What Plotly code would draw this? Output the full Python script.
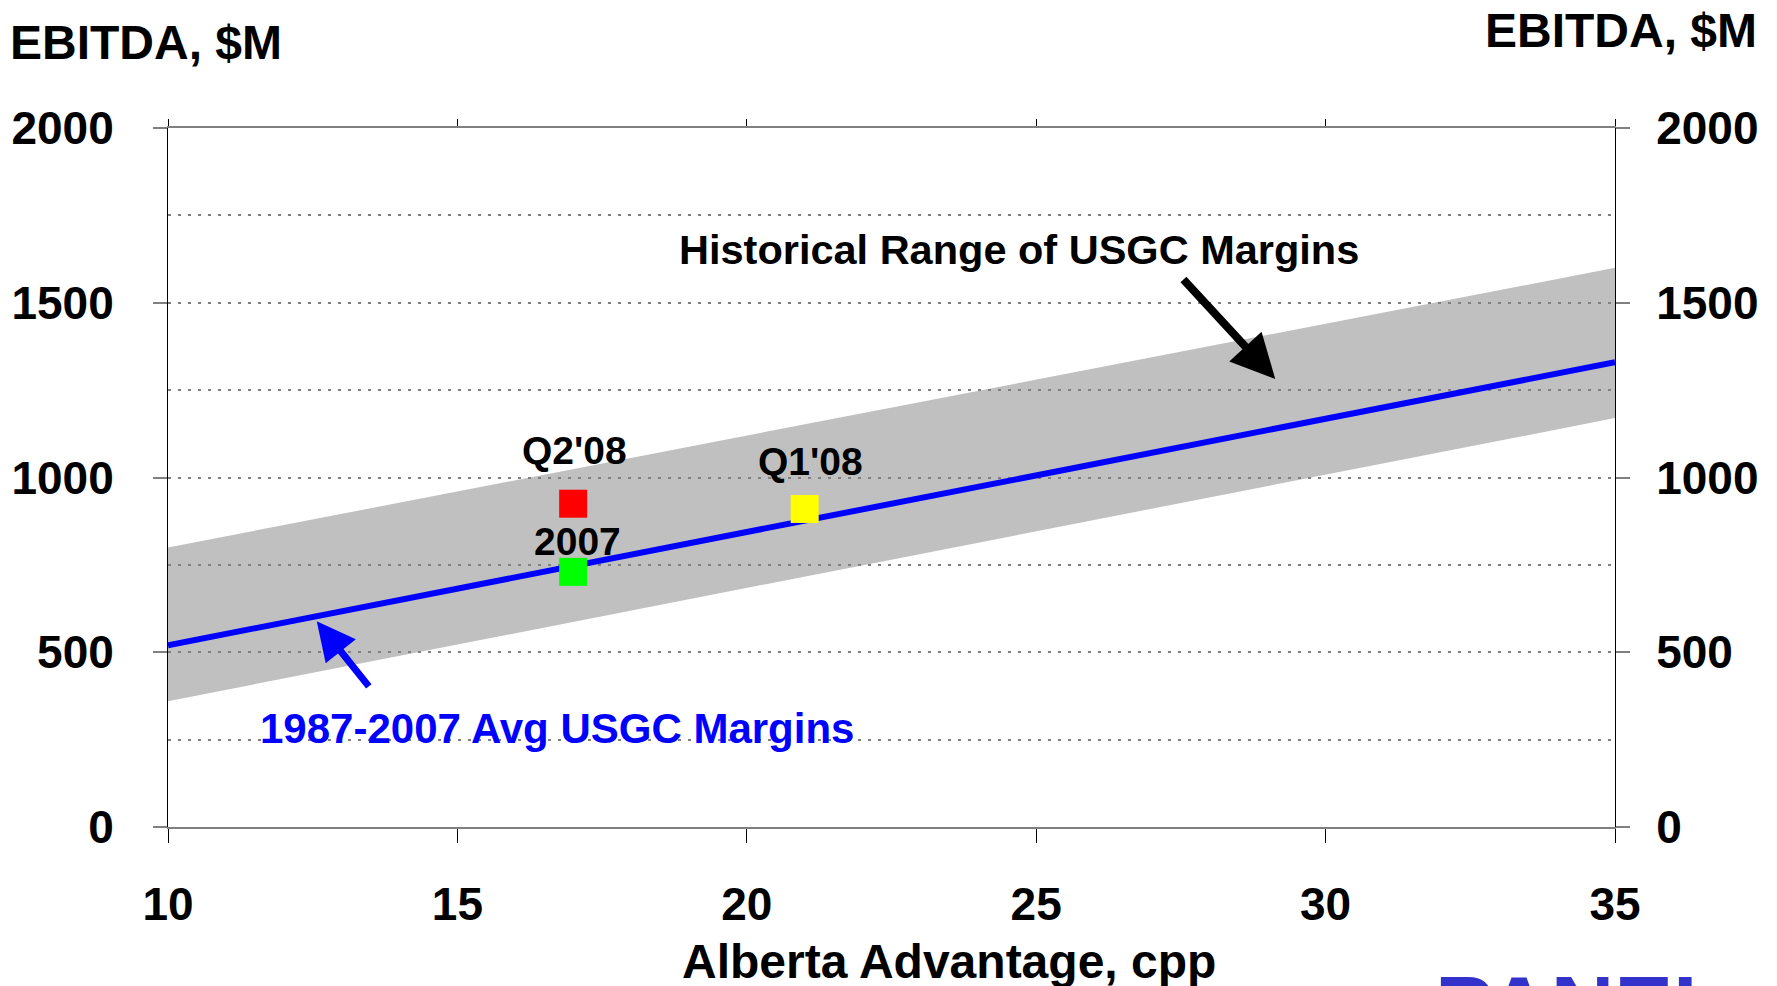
"""EBITDA vs Alberta Advantage chart."""

import plotly.graph_objects as go

# Data
band_x = [10, 35]
band_upper = [800, 1600]
band_lower = [360, 1170]

avg_x = [10, 35]
avg_y = [520, 1330]

point_labels = ["Q2'08", "2007", "Q1'08"]
point_x = [17, 17, 21]
point_y = [925, 730, 910]
point_colors = ["#ff0000", "#00ff00", "#ffff00"]

x_ticks = [10, 15, 20, 25, 30, 35]
y_ticks = [0, 500, 1000, 1500, 2000]

FONT = "Liberation Sans, Arial, sans-serif"

# Plot area in pixels
W, H = 1777, 986
PL, PR, PT, PB = 168, 1615, 128, 827


def px(x):
    return (x - PL) / (PR - PL)


def py(y):
    return (PB - y) / (PB - PT)


def bold(size, color="black"):
    return {"family": FONT, "size": size, "color": color, "weight": "bold"}


fig = go.Figure()

# Average margin line
fig.add_trace(go.Scatter(
    x=avg_x, y=avg_y, mode="lines",
    line={"color": "#0000ff", "width": 6},
    showlegend=False, hoverinfo="skip",
))

# Quarter / year points (on the mirrored axes so they get drawn too)
fig.add_trace(go.Scatter(
    x=point_x, y=point_y, mode="markers", xaxis="x2", yaxis="y2",
    marker={"symbol": "square", "size": 28, "color": point_colors,
            "line": {"width": 0}},
    showlegend=False, hoverinfo="skip",
))

# Historical range band, drawn below the gridlines
band_path = "M {},{} L {},{} L {},{} L {},{} Z".format(
    band_x[0], band_upper[0], band_x[1], band_upper[1],
    band_x[1], band_lower[1], band_x[0], band_lower[0])
fig.add_shape(type="path", path=band_path, xref="x", yref="y",
              fillcolor="#c0c0c0", line={"width": 0}, layer="below")

grid = {"gridcolor": "#808080", "griddash": "3px,7px", "gridwidth": 1.5}
tick_font = bold(46)

fig.update_layout(
    width=W, height=H,
    margin={"l": PL, "r": W - PR, "t": PT, "b": H - PB, "pad": 0},
    plot_bgcolor="white", paper_bgcolor="white",
    xaxis={
        "range": [10, 35], "tickvals": x_ticks, "showgrid": False,
        "zeroline": False, "showline": True, "linecolor": "#808080",
        "linewidth": 2, "ticks": "outside", "ticklen": 14,
        "tickcolor": "black", "tickwidth": 1, "tickfont": tick_font,
        "ticklabelstandoff": 22, "automargin": False,
    },
    xaxis2={
        "range": [10, 35], "tickvals": x_ticks, "overlaying": "x",
        "side": "top", "anchor": "y2", "showgrid": False,
        "zeroline": False, "showline": True, "linecolor": "#808080",
        "linewidth": 2, "ticks": "outside", "ticklen": 7,
        "tickcolor": "black", "tickwidth": 1, "showticklabels": False,
        "automargin": False,
    },
    yaxis={
        "range": [0, 2000], "tickvals": y_ticks, "showgrid": True, **grid,
        "minor": {"dtick": 250, "showgrid": True, **grid},
        "zeroline": False, "showline": True, "linecolor": "black",
        "linewidth": 1, "ticks": "outside", "ticklen": 14,
        "tickcolor": "#808080", "tickwidth": 2, "tickfont": tick_font,
        "ticklabelstandoff": 30, "automargin": False,
    },
    yaxis2={
        "range": [0, 2000], "tickvals": y_ticks, "overlaying": "y",
        "side": "right", "anchor": "x2", "showgrid": False,
        "zeroline": False, "showline": True, "linecolor": "black",
        "linewidth": 1, "ticks": "outside", "ticklen": 14,
        "tickcolor": "#808080", "tickwidth": 2, "tickfont": tick_font,
        "ticklabelstandoff": 17, "automargin": False,
    },
)

# Axis titles
fig.add_annotation(text="EBITDA, $M", xref="paper", yref="paper",
                   x=px(8), y=py(42), xanchor="left", yanchor="middle",
                   showarrow=False, font=bold(48))
fig.add_annotation(text="EBITDA, $M", xref="paper", yref="paper",
                   x=px(1759), y=py(31), xanchor="right", yanchor="middle",
                   showarrow=False, font=bold(48))
fig.add_annotation(text="Alberta Advantage, cpp", xref="paper", yref="paper",
                   x=px(949), y=py(961), xanchor="center", yanchor="middle",
                   showarrow=False, font=bold(48))
fig.add_annotation(text="PANEL", xref="paper", yref="paper",
                   x=px(1581), y=py(1007), xanchor="center", yanchor="middle",
                   showarrow=False, font=bold(88, "#3333cc"))

# Point labels
label_y = [1076, 817, 1047]
label_x = [17.02, 17.08, 21.1]
for text, lx, ly in zip(point_labels, label_x, label_y):
    fig.add_annotation(text=text, x=lx, y=ly, showarrow=False,
                       xanchor="center", yanchor="middle", font=bold(39))

# Callouts
fig.add_annotation(text="Historical Range of USGC Margins", x=24.7, y=1653,
                   showarrow=False, xanchor="center", yanchor="middle",
                   font=bold(41.5))
fig.add_annotation(text="1987-2007 Avg USGC Margins", x=16.72, y=282,
                   showarrow=False, xanchor="center", yanchor="middle",
                   font=bold(42, "#0000ff"))

fig.add_annotation(x=29.13, y=1282, ax=27.52, ay=1571, axref="x", ayref="y",
                   text="", showarrow=True, arrowhead=2, arrowsize=1.1,
                   arrowwidth=8, arrowcolor="black")
fig.add_annotation(x=12.57, y=589, ax=13.49, ay=398, axref="x", ayref="y",
                   text="", showarrow=True, arrowhead=2, arrowsize=1.1,
                   arrowwidth=7, arrowcolor="#0000ff")

fig.write_html(
    "out.html",
    config={"displayModeBar": False},
    post_script="document.body.style.margin='0';"
                "document.body.style.overflow='hidden';",
)
